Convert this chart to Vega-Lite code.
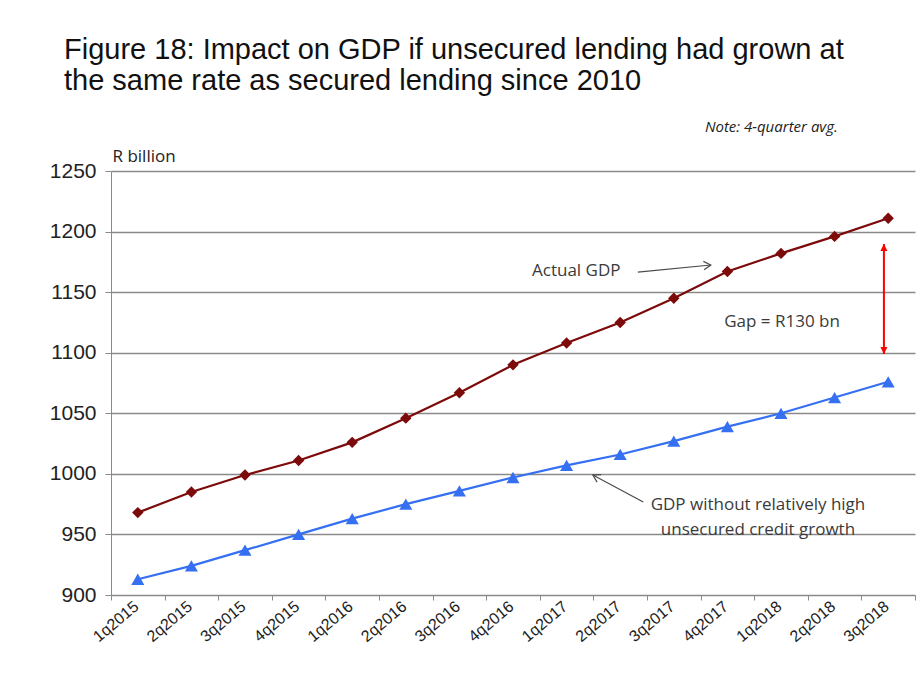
{
  "$schema": "https://vega.github.io/schema/vega-lite/v6.json",
  "width": 804,
  "height": 424,
  "autosize": {"type": "none"},
  "padding": {"left": 111, "top": 171, "right": 9, "bottom": 86},
  "background": "white",
  "title": {
    "text": ["Figure 18: Impact on GDP if unsecured lending had grown at", "the same rate as secured lending since 2010"],
    "anchor": "start",
    "frame": "group",
    "dx": -47,
    "offset": 24,
    "font": "Liberation Sans",
    "fontSize": 29,
    "fontWeight": "normal",
    "color": "#111111",
    "lineHeight": 31
  },
  "config": {
    "view": {"stroke": null},
    "axis": {"labelFont": "Liberation Sans", "labelColor": "#222222", "domainColor": "#8a8a8a", "tickColor": "#8a8a8a", "gridColor": "#8a8a8a"}
  },
  "datasets": {
    "gdp": [
      {"i": 1, "quarter": "1q2015", "actual": 968, "without": 913},
      {"i": 2, "quarter": "2q2015", "actual": 985, "without": 924},
      {"i": 3, "quarter": "3q2015", "actual": 999, "without": 937},
      {"i": 4, "quarter": "4q2015", "actual": 1011, "without": 950},
      {"i": 5, "quarter": "1q2016", "actual": 1026, "without": 963},
      {"i": 6, "quarter": "2q2016", "actual": 1046, "without": 975},
      {"i": 7, "quarter": "3q2016", "actual": 1067, "without": 986},
      {"i": 8, "quarter": "4q2016", "actual": 1090, "without": 997},
      {"i": 9, "quarter": "1q2017", "actual": 1108, "without": 1007},
      {"i": 10, "quarter": "2q2017", "actual": 1125, "without": 1016},
      {"i": 11, "quarter": "3q2017", "actual": 1145, "without": 1027},
      {"i": 12, "quarter": "4q2017", "actual": 1167, "without": 1039},
      {"i": 13, "quarter": "1q2018", "actual": 1182, "without": 1050},
      {"i": 14, "quarter": "2q2018", "actual": 1196, "without": 1063},
      {"i": 15, "quarter": "3q2018", "actual": 1211, "without": 1076}
    ],
    "labels": [
      {"x": 9.18, "y": 1167.4, "text": "Actual GDP"},
      {"x": 13.02, "y": 1125.3, "text": "Gap = R130 bn"},
      {"x": 12.57, "y": 974.6, "text": "GDP without relatively high\nunsecured credit growth"}
    ],
    "note": [{"x": 14.06, "y": 1286, "text": "Note: 4-quarter avg."}],
    "grayArrows": [
      {"x": 10.33, "y": 1166.6, "x2": 11.69, "y2": 1172.4},
      {"x": 10.43, "y": 976.7, "x2": 9.49, "y2": 999}
    ],
    "gap": [{"x": 14.92, "y": 1189.7, "y2": 1098.9}]
  },
  "layer": [
    {
      "data": {"name": "gdp"},
      "transform": [{"fold": ["actual", "without"], "as": ["series", "value"]}],
      "mark": {"type": "line", "strokeWidth": 2.2},
      "encoding": {
        "x": {
          "field": "i", "type": "quantitative",
          "scale": {"domain": [0.5, 15.5], "nice": false, "zero": false},
          "axis": {
            "title": null,
            "values": [0.5, 1.5, 2.5, 3.5, 4.5, 5.5, 6.5, 7.5, 8.5, 9.5, 10.5, 11.5, 12.5, 13.5, 14.5, 15.5],
            "labelExpr": "datum.value < 15 ? ['1q2015','2q2015','3q2015','4q2015','1q2016','2q2016','3q2016','4q2016','1q2017','2q2017','3q2017','4q2017','1q2018','2q2018','3q2018'][floor(datum.value)] : ''",
            "labelOffset": 25,
            "labelAngle": -40,
            "labelAlign": "right",
            "labelBaseline": "middle",
            "labelFontSize": 16,
            "labelPadding": 4,
            "labelOverlap": false,
            "labelFlush": false,
            "labelBound": false,
            "tickSize": 5,
            "grid": false
          }
        },
        "y": {
          "field": "value", "type": "quantitative",
          "scale": {"domain": [900, 1250], "nice": false, "zero": false},
          "axis": {
            "values": [900, 950, 1000, 1050, 1100, 1150, 1200, 1250],
            "format": "d",
            "grid": true,
            "gridWidth": 1.3,
            "tickSize": 6,
            "labelPadding": 9,
            "labelFontSize": 21,
            "title": "R billion",
            "titleAngle": 0,
            "titleX": 1,
            "titleY": -10,
            "titleAlign": "left",
            "titleBaseline": "alphabetic",
            "titleFont": "Open Sans",
            "titleFontSize": 17,
            "titleFontWeight": "normal",
            "titleColor": "#222222"
          }
        },
        "color": {"field": "series", "type": "nominal", "scale": {"domain": ["actual", "without"], "range": ["#7d0a0a", "#3670f2"]}, "legend": null}
      }
    },
    {
      "data": {"name": "gdp"},
      "transform": [{"fold": ["actual", "without"], "as": ["series", "value"]}],
      "mark": {"type": "point", "filled": true, "opacity": 1},
      "encoding": {
        "x": {"field": "i", "type": "quantitative"},
        "y": {"field": "value", "type": "quantitative"},
        "color": {"field": "series", "type": "nominal", "scale": {"domain": ["actual", "without"], "range": ["#7d0a0a", "#3670f2"]}, "legend": null},
        "shape": {"field": "series", "type": "nominal", "scale": {"domain": ["actual", "without"], "range": ["diamond", "triangle-up"]}, "legend": null},
        "size": {"field": "series", "type": "nominal", "scale": {"domain": ["actual", "without"], "range": [130, 170]}, "legend": null}
      }
    },
    {
      "data": {"name": "labels"},
      "mark": {"type": "text", "font": "Open Sans", "fontSize": 17, "color": "#3a3a3a", "align": "center", "baseline": "middle", "lineBreak": "\n", "lineHeight": 25},
      "encoding": {
        "x": {"field": "x", "type": "quantitative"},
        "y": {"field": "y", "type": "quantitative"},
        "text": {"field": "text"}
      }
    },
    {
      "data": {"name": "note"},
      "mark": {"type": "text", "font": "Open Sans", "fontSize": 15, "fontStyle": "italic", "color": "#222222", "align": "right", "baseline": "middle"},
      "encoding": {
        "x": {"field": "x", "type": "quantitative"},
        "y": {"field": "y", "type": "quantitative"},
        "text": {"field": "text"}
      }
    },
    {
      "data": {"name": "grayArrows"},
      "mark": {"type": "rule", "color": "#4a4a4a", "strokeWidth": 1.2},
      "encoding": {
        "x": {"field": "x", "type": "quantitative"},
        "y": {"field": "y", "type": "quantitative"},
        "x2": {"field": "x2"},
        "y2": {"field": "y2"}
      }
    },
    {
      "data": {"name": "grayArrows"},
      "transform": [{"filter": "datum.x < datum.x2"}],
      "mark": {"type": "point", "shape": "M-1,-0.6L0,0L-1,0.6", "filled": false, "color": "#4a4a4a", "strokeWidth": 1.2, "size": 200, "angle": 355, "opacity": 1},
      "encoding": {
        "x": {"field": "x2", "type": "quantitative"},
        "y": {"field": "y2", "type": "quantitative"}
      }
    },
    {
      "data": {"name": "grayArrows"},
      "transform": [{"filter": "datum.x > datum.x2"}],
      "mark": {"type": "point", "shape": "M-1,-0.6L0,0L-1,0.6", "filled": false, "color": "#4a4a4a", "strokeWidth": 1.2, "size": 200, "angle": 208, "opacity": 1},
      "encoding": {
        "x": {"field": "x2", "type": "quantitative"},
        "y": {"field": "y2", "type": "quantitative"}
      }
    },
    {
      "data": {"name": "gap"},
      "mark": {"type": "rule", "color": "#ff0000", "strokeWidth": 2},
      "encoding": {
        "x": {"field": "x", "type": "quantitative"},
        "y": {"field": "y", "type": "quantitative"},
        "y2": {"field": "y2"}
      }
    },
    {
      "data": {"name": "gap"},
      "mark": {"type": "point", "shape": "M0,0L-1,-0.5L-1,0.5Z", "filled": true, "color": "#ff0000", "size": 200, "angle": 270, "opacity": 1},
      "encoding": {
        "x": {"field": "x", "type": "quantitative"},
        "y": {"field": "y", "type": "quantitative"}
      }
    },
    {
      "data": {"name": "gap"},
      "mark": {"type": "point", "shape": "M0,0L-1,-0.5L-1,0.5Z", "filled": true, "color": "#ff0000", "size": 200, "angle": 90, "opacity": 1},
      "encoding": {
        "x": {"field": "x", "type": "quantitative"},
        "y": {"field": "y2", "type": "quantitative"}
      }
    }
  ]
}
